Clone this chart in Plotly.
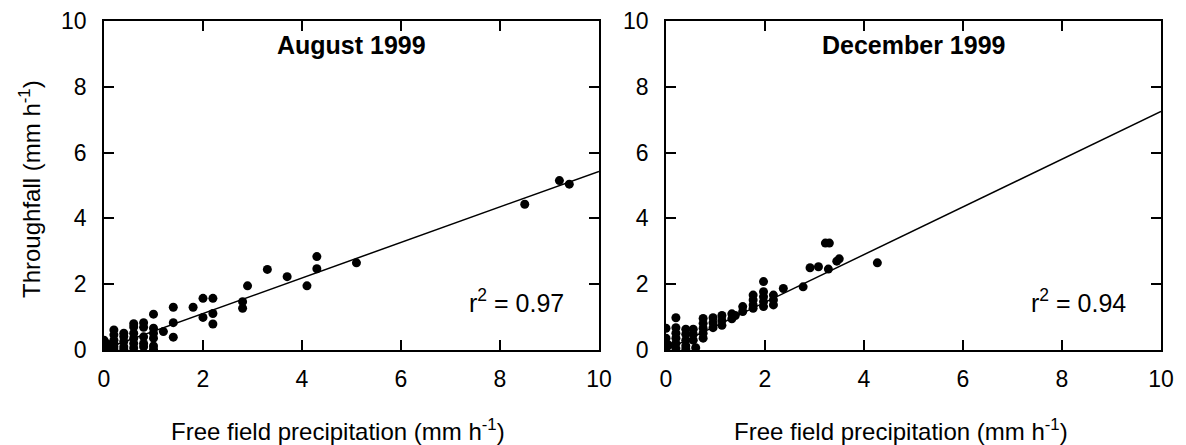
import plotly.graph_objects as go

# ---------------- data ----------------
aug_x = [0, 0, 0, 0, 0, 0.05, 0.05,
         0.2, 0.2, 0.2, 0.2, 0.2, 0.2,
         0.4, 0.4, 0.4, 0.4, 0.4,
         0.6, 0.6, 0.6, 0.6, 0.6, 0.6,
         0.8, 0.8, 0.8, 0.8, 0.8,
         1.0, 1.0, 1.0, 1.0, 1.0, 1.0,
         1.2, 1.4, 1.4, 1.4, 1.8, 2.0, 2.0, 2.2, 2.2, 2.2,
         2.8, 2.8, 2.9, 3.3, 3.7, 4.1, 4.3, 4.3, 5.1, 8.5, 9.2, 9.4]
aug_y = [0.3, 0.2, 0.15, 0.1, 0.0, 0.05, 0.2,
         0.61, 0.46, 0.30, 0.2, 0.1, 0.02,
         0.51, 0.41, 0.26, 0.1, 0.02,
         0.8, 0.7, 0.51, 0.36, 0.2, 0.06,
         0.83, 0.69, 0.4, 0.2, 0.1,
         1.09, 0.66, 0.51, 0.36, 0.12, 0.02,
         0.56, 1.30, 0.83, 0.39, 1.30, 1.57, 0.99, 1.57, 1.11, 0.79,
         1.47, 1.27, 1.95, 2.45, 2.23, 1.95, 2.84, 2.47, 2.65, 4.43, 5.15, 5.04]

dec_x = [0, 0, 0, 0, 0, 0.05,
         0.2, 0.2, 0.2, 0.2, 0.2, 0.2,
         0.4, 0.4, 0.4, 0.4, 0.4,
         0.55, 0.55, 0.55, 0.6,
         0.75, 0.75, 0.75, 0.75, 0.75,
         0.95, 0.95, 0.95,
         1.13, 1.13, 1.13,
         1.33, 1.33, 1.4,
         1.55, 1.55,
         1.76, 1.76, 1.76, 1.76,
         1.97, 1.97, 1.97, 1.97, 1.97,
         2.17, 2.17, 2.17,
         2.37, 2.77, 2.91, 3.08, 3.22, 3.3, 3.28, 3.45, 3.5, 4.27]
dec_y = [0.66, 0.36, 0.2, 0.1, 0.03, 0.15,
         0.98, 0.68, 0.51, 0.36, 0.2, 0.05,
         0.63, 0.48, 0.30, 0.13, 0.03,
         0.63, 0.48, 0.30, 0.07,
         0.96, 0.81, 0.66, 0.51, 0.36,
         0.98, 0.83, 0.68,
         1.05, 0.9, 0.75,
         1.1, 0.95, 1.05,
         1.32, 1.17,
         1.67, 1.52, 1.37, 1.27,
         2.08, 1.77, 1.62, 1.47, 1.32,
         1.67, 1.52, 1.37,
         1.87, 1.92, 2.5, 2.53, 3.25, 3.25, 2.46, 2.7, 2.77, 2.65]

fit_x = [0, 10]
aug_fit = {"slope": 0.54, "intercept": 0.03}
dec_fit = {"slope": 0.725, "intercept": 0.0}

panel_titles = ["August 1999", "December 1999"]
r2_labels = ["r<sup>2</sup> = 0.97", "r<sup>2</sup> = 0.94"]
tick_vals = [0, 2, 4, 6, 8, 10]

FONT = "Liberation Sans, Arial, sans-serif"
W, H = 1186, 445

fig = go.Figure()
marker = dict(color="black", size=9)
fig.add_trace(go.Scatter(x=aug_x, y=aug_y, mode="markers", marker=marker,
                         xaxis="x", yaxis="y", showlegend=False))
fig.add_trace(go.Scatter(x=fit_x, y=[aug_fit["intercept"] + aug_fit["slope"] * v for v in fit_x],
                         mode="lines", line=dict(color="black", width=1.5),
                         xaxis="x", yaxis="y", showlegend=False))
fig.add_trace(go.Scatter(x=dec_x, y=dec_y, mode="markers", marker=marker,
                         xaxis="x2", yaxis="y2", showlegend=False))
fig.add_trace(go.Scatter(x=fit_x, y=[dec_fit["intercept"] + dec_fit["slope"] * v for v in fit_x],
                         mode="lines", line=dict(color="black", width=1.5),
                         xaxis="x2", yaxis="y2", showlegend=False))

ax_common = dict(range=[0, 10], tickvals=tick_vals, ticks="inside", ticklen=10,
                 tickwidth=1.5, tickcolor="black", showline=True, linewidth=1.5,
                 linecolor="black", mirror="ticks", showgrid=False, zeroline=False,
                 automargin=False,
                 tickfont=dict(family=FONT, size=23, color="black"))

ydom = [(H - 350) / H, (H - 21) / H]
fig.update_layout(
    template="none",
    width=W, height=H,
    margin=dict(l=0, r=0, t=0, b=0),
    paper_bgcolor="white", plot_bgcolor="white",
    xaxis=dict(domain=[104 / W, 599 / W], anchor="y", ticklabelstandoff=8, **ax_common),
    yaxis=dict(domain=ydom, anchor="x", ticklabelstandoff=11, **ax_common),
    xaxis2=dict(domain=[666 / W, 1161 / W], anchor="y2", ticklabelstandoff=8, **ax_common),
    yaxis2=dict(domain=ydom, anchor="x2", ticklabelstandoff=11, **ax_common),
)

ann = []
for i, (xr, yr) in enumerate([("x", "y"), ("x2", "y2")]):
    ann.append(dict(text="<b>" + panel_titles[i] + "</b>", x=5, y=9.27, xref=xr, yref=yr,
                    showarrow=False, font=dict(family=FONT, size=25, color="black")))
    ann.append(dict(text=r2_labels[i], x=8.33, y=1.5, xref=xr, yref=yr,
                    showarrow=False, font=dict(family=FONT, size=25, color="black")))

ann.append(dict(text="Throughfall (mm h<sup>-1</sup>)", textangle=-90, x=30 / W, y=(H - 189) / H,
                xref="paper", yref="paper", showarrow=False, xanchor="center", yanchor="middle",
                font=dict(family=FONT, size=24, color="black")))
for cx in [338, 901]:
    ann.append(dict(text="Free field precipitation (mm h<sup>-1</sup>)", x=cx / W, y=(H - 430) / H,
                    xref="paper", yref="paper", showarrow=False, xanchor="center", yanchor="middle",
                    font=dict(family=FONT, size=24, color="black")))
fig.update_layout(annotations=ann)

fig.write_html("out.html", post_script="document.body.style.margin='0';")
